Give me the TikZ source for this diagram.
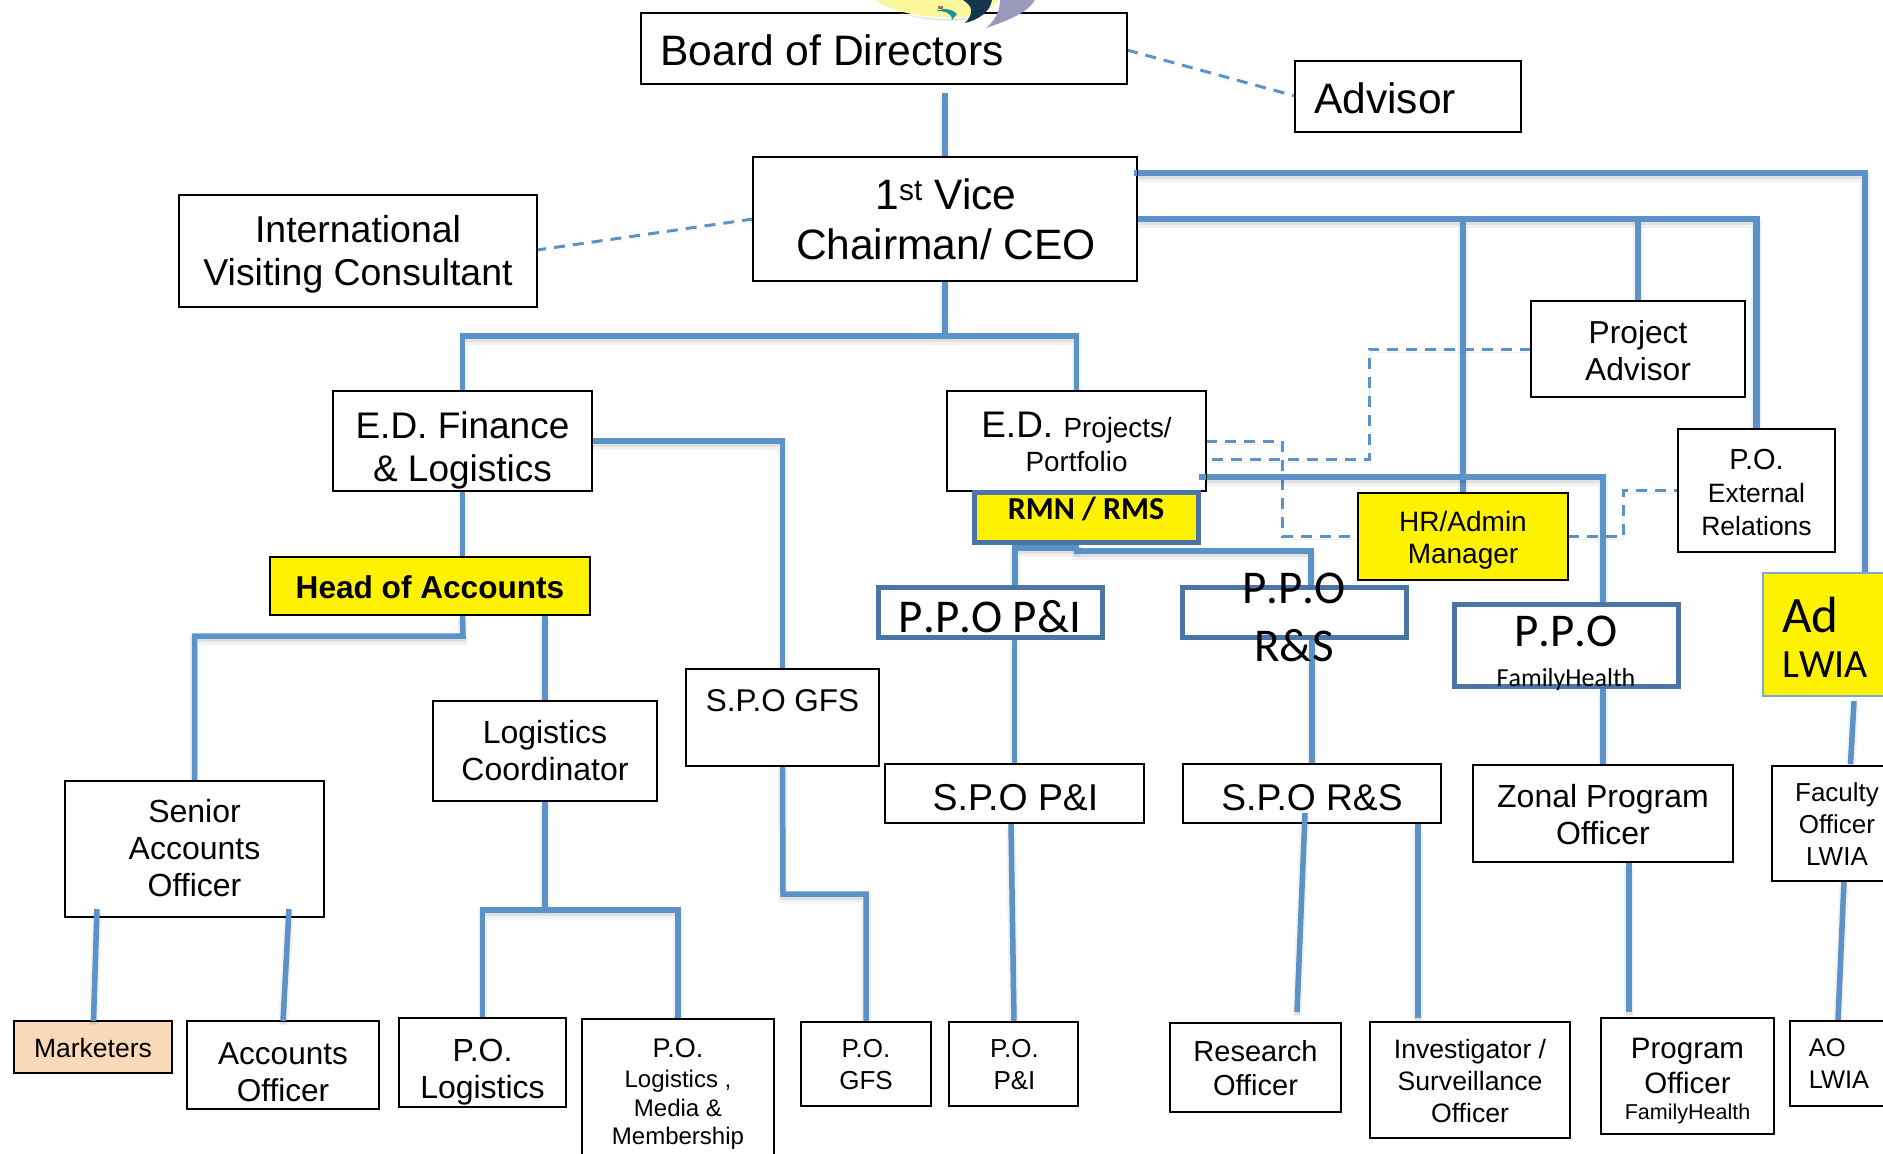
\documentclass[tikz,border=0pt]{standalone}
\usepackage{fontspec}
\setmainfont{Liberation Sans}
\newfontfamily\carl[Kerning=Off]{Carlito}
\definecolor{linkblue}{HTML}{5B92C8}
\definecolor{ppoblue}{HTML}{4A75A5}
\definecolor{peach}{HTML}{FAD9B8}
\definecolor{adblue}{HTML}{79A9DA}
\definecolor{logoyellow}{HTML}{FBF79A}
\definecolor{logonavy}{HTML}{14344F}
\definecolor{logolilac}{HTML}{9A99BB}
\definecolor{logoteal}{HTML}{1E8F9B}
\definecolor{logored}{HTML}{A8705A}
\pgfdeclarelayer{background}
\pgfsetlayers{background,main}
\tikzset{
  bx/.style={draw=black,fill=white,line width=2.4pt,inner sep=0pt,outer sep=0pt,text=black},
  hi/.style={fill=yellow},
  ppo/.style={draw=ppoblue,line width=5pt},
  conn/.style={draw=linkblue,line width=#1,line cap=butt,line join=miter,
    preaction={draw=black,opacity=.05,line width=#1+4pt,transform canvas={yshift=-4pt}},
    preaction={draw=black,opacity=.07,line width=#1,transform canvas={yshift=-3pt}}},
  conn/.default=5.5pt,
  dsh/.style={draw=linkblue,line width=3pt,dash pattern=on 11pt off 8pt,
    preaction={draw=black,opacity=.06,transform canvas={yshift=-3pt}}},
}
% [column]{dx}{dy}{size}{leading}{body}
\newcommand\tx[6][c]{\fontsize{#4}{#5}\selectfont
  \raisebox{\dimexpr #3pt -.61em+0.2\dimexpr #5pt\relax\relax}[0pt][0pt]{\makebox[0pt]{\hspace*{2\dimexpr #2pt\relax}\begin{tabular}{@{}#1@{}}#6\end{tabular}}}}
\newcommand\fs[1]{\fontsize{#1}{#1}\selectfont}
% [style]{name}{x1}{y1}{x2}{y2}{text}
\newcommand\nd[7][]{%
  \pgfmathsetmacro\bxcx{(#3+#5)/2}\pgfmathsetmacro\bxcy{(#4+#6)/2}%
  \pgfmathsetmacro\bxw{#5-#3}\pgfmathsetmacro\bxh{#6-#4}%
  \node[bx,#1,minimum width=\bxw pt,minimum height=\bxh pt] (#2) at (\bxcx,\bxcy) {#7};}
\begin{document}
\begin{tikzpicture}[x=1pt,y=-1pt]
\useasboundingbox (0,0) rectangle (1883,1154);
% boxes
\nd{board}{641}{13}{1127}{84}{\tx[l]{-52}{3}{42.6}{50}{Board of Directors}}
\nd{advisor}{1295}{61}{1521}{132}{\tx[l]{-23}{3}{42.5}{50}{Advisor}}
\nd{ceo}{753}{157}{1137}{281}{\tx{1}{4.5}{42.5}{50}{1\textsuperscript{st} Vice\\Chairman/ CEO}}
\nd{ivc}{179}{195}{537}{307}{\tx{0}{3.5}{37.4}{43}{International\\Visiting Consultant}}
\nd{pa}{1531}{301}{1745}{397}{\tx{0}{0}{31.7}{37}{Project\\Advisor}}
\nd{fin}{333}{391}{592}{491}{\tx{0}{-2.5}{37}{43}{E.D. Finance\\\& Logistics}}
\nd{edp}{947}{391}{1206}{491}{\tx{0}{3.5}{37}{34}{E.D. {\fs{27.8}Projects/}\\{\fs{27.8}Portfolio}}}
\nd[ppo,hi]{rmn}{974}{492}{1198}{542}{\tx{0}{10.5}{32}{38}{\carl\bfseries RMN / RMS}}
\nd[hi]{hr}{1358}{493}{1568}{580}{\tx{0}{0}{28}{32}{HR/Admin\\Manager}}
\nd{ext}{1678}{429}{1835}{552}{\tx{0}{-2}{26.5}{33}{{\fs{29}P.O.}\\External\\Relations}}
\nd[hi]{hoa}{270}{557}{590}{615}{\tx{0}{0.5}{31.6}{38}{\bfseries Head of Accounts}}
\nd[ppo]{ppopi}{878}{587}{1102}{637}{\tx{0}{2}{47}{52}{\carl P.P.O P\&I}}
\nd[ppo]{pporS}{1182}{587}{1406}{637}{\tx{0}{2}{47}{58}{\carl P.P.O\\\carl R\&S}}
\nd[ppo]{fh}{1454}{604}{1678}{686}{\tx{0}{2}{47}{40}{\carl P.P.O\\{\carl\fs{26}FamilyHealth}}}
\nd[draw=adblue,fill=yellow]{ad}{1763}{573}{1967}{696}{\tx[l]{-40}{0}{40}{45}{\carl{\fs{51}Ad}\\\carl LWIA}}
\nd{log}{433}{701}{657}{801}{\tx{0}{2.5}{32}{37}{Logistics\\Coordinator}}
\nd{spogfs}{686}{669}{879}{766}{\tx{0}{19.5}{31.5}{37}{S.P.O GFS}}
\nd{spopi}{885}{764}{1144}{823}{\tx{1}{0}{37.4}{42}{S.P.O P\&I}}
\nd{spors}{1183}{764}{1441}{823}{\tx{0}{-0.5}{37.2}{42}{S.P.O R\&S}}
\nd{zonal}{1473}{765}{1733}{862}{\tx{0}{1}{32}{37}{Zonal Program\\Officer}}
\nd{fac}{1772}{766}{1902}{881}{\tx{0}{0}{26}{32}{Faculty\\Officer\\LWIA}}
\nd{senior}{65}{781}{324}{917}{\tx{0}{2.5}{32}{37}{Senior\\Accounts\\Officer}}
\nd[fill=peach]{mkt}{14}{1021}{172}{1073}{\tx{0}{-1}{26.5}{32}{Marketers}}
\nd{acc}{187}{1021}{379}{1109}{\tx{0}{-4.5}{31.6}{37}{Accounts\\Officer}}
\nd{polog}{399}{1018}{566}{1107}{\tx{0}{-4}{32}{37}{P.O.\\Logistics}}
\nd{polmm}{582}{1019}{774}{1170}{\tx{0}{1.5}{24}{28.5}{{\fs{27}P.O.}\\[1.5pt]Logistics ,\\Media \&\\Membership}}
\nd{pogfs}{801}{1022}{931}{1106}{\tx{0}{0}{26}{32}{P.O.\\GFS}}
\nd{popi}{949}{1022}{1078}{1106}{\tx{1}{0}{26}{32}{P.O.\\P\&I}}
\nd{research}{1170}{1023}{1341}{1112}{\tx{0}{0}{29}{34}{Research\\Officer}}
\nd{invest}{1370}{1022}{1570}{1138}{\tx{0}{-0.5}{26.6}{32}{Investigator /\\Surveillance\\Officer}}
\nd{program}{1601}{1018}{1774}{1134}{\tx{0}{-1}{29.5}{35}{Program\\Officer\\[-9pt]{\fs{21.5}FamilyHealth}}}
\nd{ao}{1790}{1021}{1950}{1106}{\tx[l]{-31}{0}{25.5}{32}{AO\\LWIA}}
% named free ends
\coordinate (boardgap) at (945,93);
\coordinate (advA) at (1127,50);
\coordinate (advB) at (1295,96);
\coordinate (ivcA) at (753,219);
\coordinate (ivcB) at (537,250);
\coordinate (topline) at (1134,173);
\coordinate (adline) at (1865,173);
\coordinate (ceobus) at (945,336);
\coordinate (finright) at (783,441);
\coordinate (hoadrop) at (463,636);
\coordinate (gfsbend) at (783,894);
\coordinate (logbus) at (545,910);
\coordinate (dA) at (1369,459);
\coordinate (dB) at (1282,441);
\coordinate (dC) at (1282,536.5);
\coordinate (dD) at (1623,490.5);
\coordinate (edfh) at (1199,477);
\coordinate (rmnL) at (1015,548);
\coordinate (rmnR) at (1311,551);
\coordinate (srMa) at (97,909);
\coordinate (srMb) at (93.5,1021);
\coordinate (srAa) at (289,909);
\coordinate (srAb) at (283,1021);
\coordinate (piA) at (1011,823);
\coordinate (piB) at (1014,1022);
\coordinate (resA) at (1305,813);
\coordinate (resB) at (1297,1012);
\coordinate (invA) at (1418,823);
\coordinate (invB) at (1418,1018);
\coordinate (progA) at (1629,862);
\coordinate (progB) at (1629,1012);
\coordinate (adA) at (1854,701);
\coordinate (adB) at (1850.5,764);
\coordinate (aoA) at (1844,881);
\coordinate (aoB) at (1838,1020);
\begin{pgfonlayer}{background}
\draw[conn] (boardgap) -- (boardgap |- ceo.north);
\draw[dsh] (advA) -- (advB);
\draw[dsh] (ivcA) -- (ivcB);
\draw[conn=6.5pt] (ceo.east) -| (ext.north);
\draw[conn] (ceo.east -| hr.north) -- (hr.north);
\draw[conn] (ceo.east -| pa.north) -- (pa.north);
\draw[conn=6.5pt] (ceo.south) -- (ceobus);
\draw[conn] (fin.north) -- (fin.north |- ceobus) -- (edp.north |- ceobus) -- (edp.north);
\draw[conn] (fin.south) -- (hoa.north -| fin.south);
\draw[conn] (hoa.south -| fin.south) -- (hoadrop) -| (senior.north);
\draw[conn] (log.north |- hoa.south) -- (log.north);
\draw[conn] (fin.east |- finright) -| (spogfs.north);
\draw[conn] (spogfs.south) -- (gfsbend) -| (pogfs.north);
\draw[conn=6.5pt] (log.south) -- (logbus);
\draw[conn] (polog.north) |- (logbus) -| (polmm.north);
\draw[dsh] (pa.west) -| (dA) -- (dA -| edp.east);
\draw[dsh] (edp.east |- dB) -- (dB) -- (dC) -- (hr.west);
\draw[dsh] (hr.east) -| (dD) -- (ext.west);
\draw[conn] (edp.south |- rmn.south) -- (edp.south |- rmnL) -- (rmnL) -- (rmnL |- ppopi.north);
\draw[conn] (edp.south |- rmn.south) -- (edp.south |- rmnR) -- (rmnR) -- (rmnR |- pporS.north);
\draw[conn] (spopi.north |- ppopi.south) -- (spopi.north);
\draw[conn] (spors.north |- pporS.south) -- (spors.north);
\draw[conn] (zonal.north |- fh.south) -- (zonal.north);
\draw[conn] (piA) -- (piB);
\draw[conn] (invA) -- (invB);
\draw[conn] (progA) -- (progB);
\draw[conn] (adA) -- (adB);
\draw[conn] (aoA) -- (aoB);
\draw[conn] (topline) -- (adline) -- (ad.north);
\draw[conn=6.5pt] (edfh) -| (zonal.north |- fh.north);
\end{pgfonlayer}
% connectors lying over their boxes
\draw[conn] (srMa) -- (srMb);
\draw[conn] (srAa) -- (srAb);
\draw[conn] (resA) -- (resB);
\draw[draw=linkblue,line width=6pt] (edfh) -- (edp.east |- edfh);
\draw[draw=linkblue,line width=6pt] (topline) -- (ceo.east |- topline);
% logo
\fill[logoyellow] (876,0) .. controls (895,14) and (930,19) .. (962,17) .. controls (980,16) and (992,10) .. (998,0) -- cycle;
\fill[black!12] (900,13) .. controls (925,19) and (945,20) .. (965,18) -- (965,20) .. controls (940,22) and (920,19) .. (900,13) -- cycle;
\fill[logoteal] (936,11) .. controls (945,8) and (950,8) .. (957,14) -- (952,20) .. controls (952,13) and (945,11) .. (936,11) -- cycle;
\fill[logored] (938,6) rectangle (943,9);
\fill[logonavy] (963,0) .. controls (972,6) and (975,12) .. (965,23) .. controls (978,20) and (990,12) .. (992,0) -- cycle;
\fill[logolilac] (1000,0) .. controls (1000,12) and (995,20) .. (986,28) .. controls (1010,20) and (1028,12) .. (1035,0) -- cycle;
\end{tikzpicture}
\end{document}
